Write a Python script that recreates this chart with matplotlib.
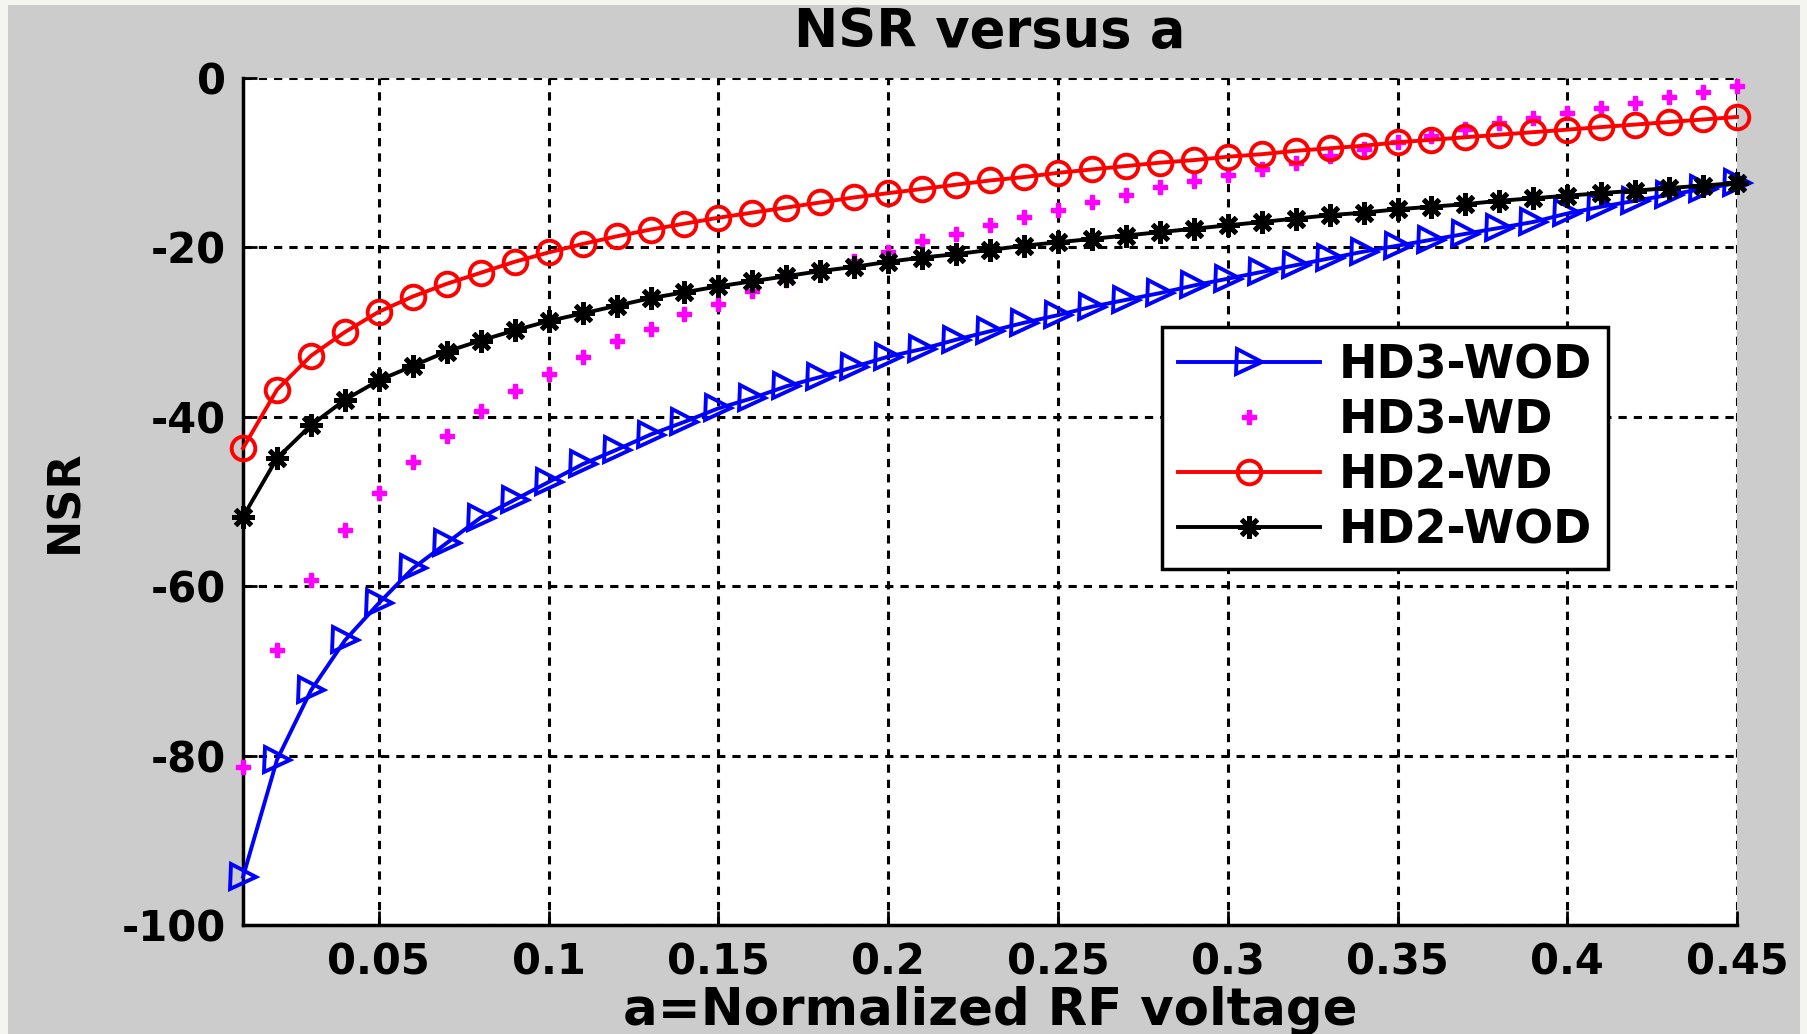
import numpy as np
import matplotlib.pyplot as plt
from matplotlib.patches import Rectangle

a = np.round(np.arange(1, 46) * 0.01, 2)

hd3_wod = [-94.3, -80.5, -72.3, -66.4, -62.0, -57.9, -54.9, -51.9, -49.8, -47.7,
           -45.6, -43.9, -42.1, -40.6, -39.0, -37.8, -36.4, -35.3, -34.1, -32.9,
           -32.0, -30.9, -29.9, -28.9, -28.0, -27.0, -26.2, -25.4, -24.5, -23.7,
           -22.9, -22.1, -21.3, -20.5, -19.8, -19.1, -18.4, -17.7, -17.0, -16.0,
           -15.2, -14.5, -13.8, -13.1, -12.4]
hd3_wd = [-81.3, -67.5, -59.3, -53.4, -49.0, -45.3, -42.3, -39.3, -37.0, -34.9,
          -32.9, -31.1, -29.6, -27.9, -26.7, -25.2, -23.9, -22.7, -21.6, -20.5,
          -19.3, -18.4, -17.4, -16.4, -15.6, -14.7, -13.8, -12.9, -12.2, -11.4,
          -10.7, -10.0, -9.2, -8.4, -7.6, -6.8, -6.0, -5.3, -4.7, -4.1,
          -3.5, -2.9, -2.2, -1.6, -0.9]
hd2_wd = [-43.7, -36.8, -32.8, -30.0, -27.6, -25.8, -24.3, -23.0, -21.7, -20.6,
          -19.6, -18.7, -17.9, -17.2, -16.5, -15.9, -15.3, -14.7, -14.1, -13.6,
          -13.1, -12.6, -12.1, -11.7, -11.2, -10.8, -10.4, -10.0, -9.7, -9.3,
          -9.0, -8.6, -8.3, -8.0, -7.6, -7.3, -7.0, -6.7, -6.4, -6.1,
          -5.8, -5.5, -5.2, -4.9, -4.6]
hd2_wod = [-51.8, -44.9, -41.0, -38.0, -35.7, -34.0, -32.3, -31.0, -29.8, -28.7,
           -27.8, -26.9, -26.0, -25.3, -24.6, -24.0, -23.4, -22.8, -22.3, -21.7,
           -21.2, -20.8, -20.3, -19.8, -19.4, -19.0, -18.6, -18.2, -17.8, -17.4,
           -17.0, -16.6, -16.2, -15.9, -15.5, -15.2, -14.9, -14.5, -14.2, -13.9,
           -13.6, -13.3, -13.0, -12.7, -12.4]

xticks = [0.05, 0.1, 0.15, 0.2, 0.25, 0.3, 0.35, 0.4, 0.45]
xticklabels = ['0.05', '0.1', '0.15', '0.2', '0.25', '0.3', '0.35', '0.4', '0.45']
yticks = [-100, -80, -60, -40, -20, 0]

plt.rcParams['font.family'] = 'DejaVu Sans'
plt.rcParams['font.weight'] = 'bold'
plt.rcParams['axes.unicode_minus'] = False

fig = plt.figure(figsize=(18.07, 10.34), dpi=100, facecolor='#f5f5f0')
# grey window area inside the light outer border
fig.patches.append(Rectangle((8 / 1807, 0), 1792 / 1807, 1 - 5 / 1034,
                             transform=fig.transFigure, facecolor='#cccccc',
                             edgecolor='none', zorder=-10))
ax = fig.add_axes([0.1345, 0.1054, 0.8268, 0.8192])

ax.plot(a, hd3_wod, color='blue', lw=2.8, marker='>', ms=18, mfc='none',
        mew=2.8, label='HD3-WOD', clip_on=False, zorder=5)
ax.plot(a, hd3_wd, color='magenta', ls='none', marker='P', ms=10,
        label='HD3-WD', clip_on=False, zorder=4)
ax.plot(a, hd2_wd, color='red', lw=2.8, marker='o', ms=17, mfc='none',
        mew=2.8, label='HD2-WD', clip_on=False, zorder=5)
ax.plot(a, hd2_wod, color='black', lw=2.8, marker=(8, 2, 0), ms=16,
        mew=3.5, label='HD2-WOD', clip_on=False, zorder=5)

ax.set_xlim(0.01, 0.45)
ax.set_ylim(-100, 0)
ax.set_xticks(xticks)
ax.set_xticklabels(xticklabels)
ax.set_yticks(yticks)
ax.grid(True, color='black', lw=2.2, ls=(0, (2.7, 2.3)))
for s in ['top', 'right']:
    ax.spines[s].set_visible(False)
for s in ['left', 'bottom']:
    ax.spines[s].set_linewidth(2.5)
ax.tick_params(direction='in', length=10, width=2, labelsize=30, pad=12)

ax.set_title('NSR versus a', fontsize=38, fontweight='bold', pad=22)
ax.set_xlabel('a=Normalized RF voltage', fontsize=37, fontweight='bold', labelpad=2)
ax.set_ylabel('NSR', fontsize=32, fontweight='bold', labelpad=26)

leg = ax.legend(loc='upper left', bbox_to_anchor=(0.615, 0.706), borderaxespad=0,
                fontsize=33, handlelength=3.1, handletextpad=0.4,
                labelspacing=0.22, fancybox=False, framealpha=1,
                edgecolor='black', borderpad=0.35)
leg.get_frame().set_linewidth(2.5)
leg.set_zorder(10)

fig.savefig('out.png', dpi=100, facecolor=fig.get_facecolor())
